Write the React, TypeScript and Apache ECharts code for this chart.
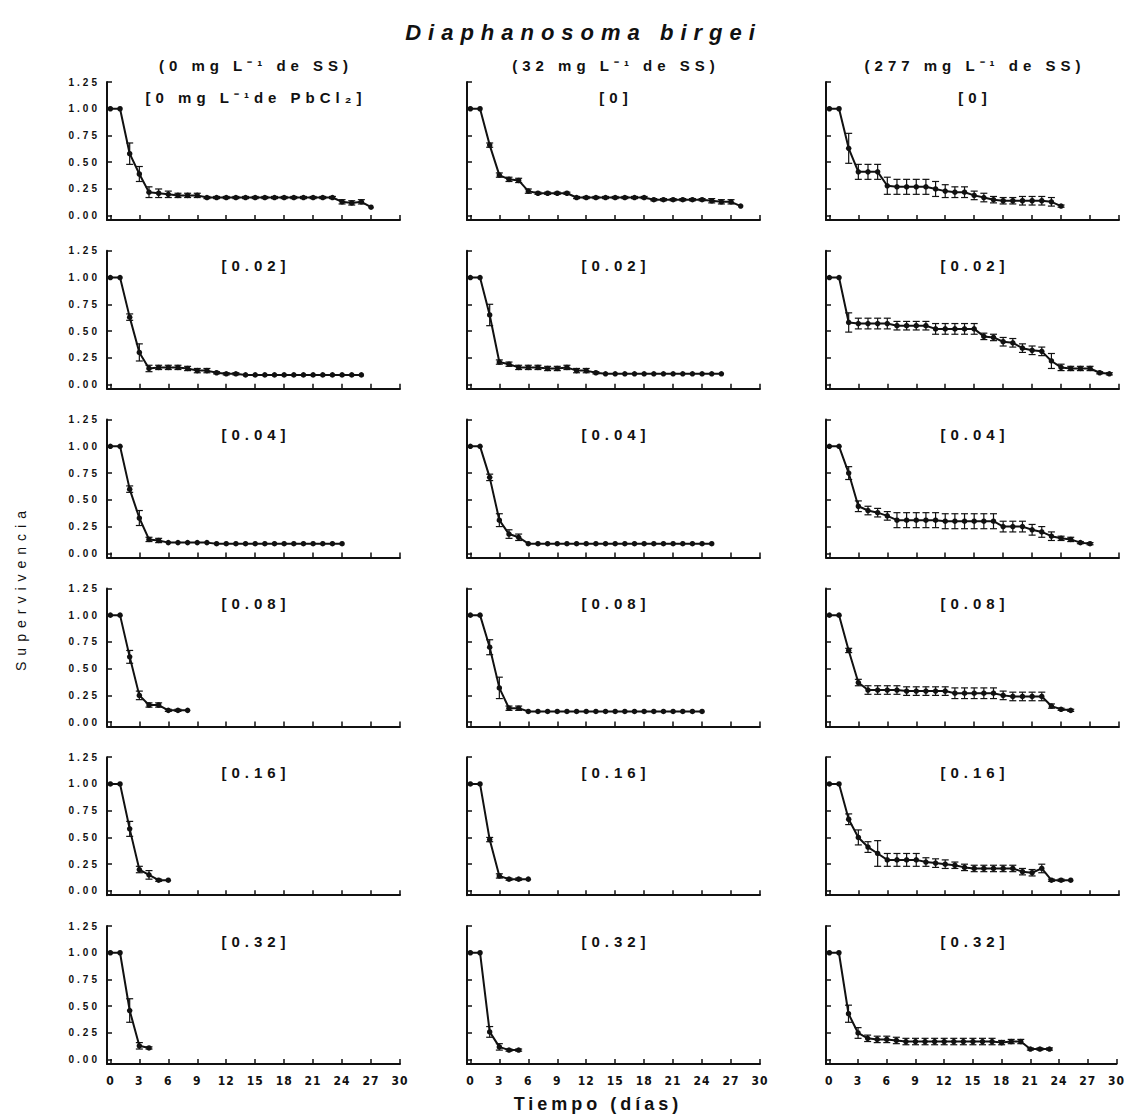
import React, { useEffect, useRef } from "react";
import * as echarts from "echarts";

// ---------- texts ----------
const TITLE = "Diaphanosoma birgei";
const SS_LABELS = ["(0 mg L⁻¹ de SS)", "(32 mg L⁻¹ de SS)", "(277 mg L⁻¹ de SS)"];
const PB_LABELS = ["[0]", "[0.02]", "[0.04]", "[0.08]", "[0.16]", "[0.32]"];
const FIRST_PB_LABEL = "[0 mg L⁻¹de PbCl₂]";
const Y_NAME = "Supervivencia";
const X_NAME = "Tiempo (días)";
const X_TICKS = [0, 3, 6, 9, 12, 15, 18, 21, 24, 27, 30];
const Y_TICKS = [0, 0.25, 0.5, 0.75, 1.0, 1.25];

// ---------- data: survival (mean) per day, and SD ----------
// 0 mg/L SS
const ss0_pb000 = [1.00, 1.00, 0.58, 0.39, 0.22, 0.21, 0.20, 0.19, 0.19, 0.19, 0.17, 0.17, 0.17, 0.17, 0.17, 0.17, 0.17, 0.17, 0.17, 0.17, 0.17, 0.17, 0.17, 0.17, 0.13, 0.12, 0.13, 0.08];
const ss0_pb000_sd = [0, 0, 0.10, 0.07, 0.05, 0.04, 0.03, 0.02, 0.02, 0.02, 0.01, 0.01, 0.01, 0.01, 0.01, 0.01, 0.01, 0.01, 0.01, 0.01, 0.01, 0.01, 0.01, 0.01, 0.02, 0.02, 0.02, 0];
const ss0_pb002 = [1.00, 1.00, 0.63, 0.30, 0.15, 0.16, 0.16, 0.16, 0.15, 0.13, 0.13, 0.11, 0.10, 0.10, 0.09, 0.09, 0.09, 0.09, 0.09, 0.09, 0.09, 0.09, 0.09, 0.09, 0.09, 0.09, 0.09];
const ss0_pb002_sd = [0, 0, 0.03, 0.08, 0.03, 0.02, 0.02, 0.02, 0.02, 0.02, 0.02, 0.01, 0.01, 0.01, 0, 0, 0, 0, 0, 0, 0, 0, 0, 0, 0, 0, 0];
const ss0_pb004 = [1.00, 1.00, 0.60, 0.33, 0.13, 0.12, 0.10, 0.10, 0.10, 0.10, 0.10, 0.09, 0.09, 0.09, 0.09, 0.09, 0.09, 0.09, 0.09, 0.09, 0.09, 0.09, 0.09, 0.09, 0.09];
const ss0_pb004_sd = [0, 0, 0.03, 0.07, 0.02, 0.02, 0, 0, 0, 0, 0, 0, 0, 0, 0, 0, 0, 0, 0, 0, 0, 0, 0, 0, 0];
const ss0_pb008 = [1.00, 1.00, 0.61, 0.25, 0.16, 0.16, 0.11, 0.11, 0.11];
const ss0_pb008_sd = [0, 0, 0.06, 0.04, 0.02, 0.02, 0.01, 0.01, 0];
const ss0_pb016 = [1.00, 1.00, 0.58, 0.20, 0.15, 0.10, 0.10];
const ss0_pb016_sd = [0, 0, 0.07, 0.03, 0.04, 0.01, 0];
const ss0_pb032 = [1.00, 1.00, 0.46, 0.13, 0.11];
const ss0_pb032_sd = [0, 0, 0.11, 0.03, 0.01];

// 32 mg/L SS
const ss32_pb000 = [1.00, 1.00, 0.66, 0.38, 0.34, 0.33, 0.23, 0.21, 0.21, 0.21, 0.21, 0.17, 0.17, 0.17, 0.17, 0.17, 0.17, 0.17, 0.17, 0.15, 0.15, 0.15, 0.15, 0.15, 0.15, 0.14, 0.13, 0.13, 0.09];
const ss32_pb000_sd = [0, 0, 0.02, 0.02, 0.02, 0.02, 0.02, 0.01, 0.01, 0.01, 0.01, 0.01, 0.01, 0.01, 0.01, 0.01, 0.01, 0.01, 0.01, 0.01, 0.01, 0.01, 0.01, 0.01, 0.01, 0.02, 0.02, 0.02, 0];
const ss32_pb002 = [1.00, 1.00, 0.65, 0.21, 0.19, 0.16, 0.16, 0.16, 0.15, 0.15, 0.16, 0.13, 0.13, 0.11, 0.10, 0.10, 0.10, 0.10, 0.10, 0.10, 0.10, 0.10, 0.10, 0.10, 0.10, 0.10, 0.10];
const ss32_pb002_sd = [0, 0, 0.10, 0.02, 0.02, 0.02, 0.02, 0.02, 0.02, 0.02, 0.02, 0.02, 0.02, 0.01, 0, 0, 0, 0, 0, 0, 0, 0, 0, 0, 0, 0, 0];
const ss32_pb004 = [1.00, 1.00, 0.71, 0.31, 0.18, 0.15, 0.09, 0.09, 0.09, 0.09, 0.09, 0.09, 0.09, 0.09, 0.09, 0.09, 0.09, 0.09, 0.09, 0.09, 0.09, 0.09, 0.09, 0.09, 0.09, 0.09];
const ss32_pb004_sd = [0, 0, 0.03, 0.06, 0.04, 0.03, 0, 0, 0, 0, 0, 0, 0, 0, 0, 0, 0, 0, 0, 0, 0, 0, 0, 0, 0, 0];
const ss32_pb008 = [1.00, 1.00, 0.70, 0.32, 0.13, 0.13, 0.10, 0.10, 0.10, 0.10, 0.10, 0.10, 0.10, 0.10, 0.10, 0.10, 0.10, 0.10, 0.10, 0.10, 0.10, 0.10, 0.10, 0.10, 0.10];
const ss32_pb008_sd = [0, 0, 0.07, 0.10, 0.02, 0.02, 0, 0, 0, 0, 0, 0, 0, 0, 0, 0, 0, 0, 0, 0, 0, 0, 0, 0, 0];
const ss32_pb016 = [1.00, 1.00, 0.48, 0.14, 0.11, 0.11, 0.11];
const ss32_pb016_sd = [0, 0, 0.02, 0.02, 0.01, 0.01, 0];
const ss32_pb032 = [1.00, 1.00, 0.26, 0.12, 0.09, 0.09];
const ss32_pb032_sd = [0, 0, 0.05, 0.03, 0.01, 0.01];

// 277 mg/L SS
const ss277_pb000 = [1.00, 1.00, 0.63, 0.41, 0.41, 0.41, 0.28, 0.27, 0.27, 0.27, 0.27, 0.25, 0.23, 0.22, 0.22, 0.19, 0.17, 0.15, 0.14, 0.14, 0.14, 0.14, 0.14, 0.13, 0.09];
const ss277_pb000_sd = [0, 0, 0.14, 0.07, 0.07, 0.07, 0.08, 0.07, 0.07, 0.07, 0.07, 0.07, 0.06, 0.05, 0.05, 0.04, 0.04, 0.03, 0.03, 0.03, 0.04, 0.04, 0.04, 0.04, 0.01];
const ss277_pb002 = [1.00, 1.00, 0.58, 0.57, 0.57, 0.57, 0.57, 0.55, 0.55, 0.55, 0.55, 0.52, 0.52, 0.52, 0.52, 0.52, 0.45, 0.44, 0.40, 0.39, 0.34, 0.32, 0.31, 0.22, 0.16, 0.15, 0.15, 0.15, 0.11, 0.10];
const ss277_pb002_sd = [0, 0, 0.09, 0.05, 0.05, 0.05, 0.05, 0.04, 0.04, 0.04, 0.04, 0.05, 0.05, 0.05, 0.05, 0.05, 0.03, 0.03, 0.04, 0.04, 0.04, 0.04, 0.04, 0.07, 0.03, 0.02, 0.02, 0.02, 0.01, 0.01];
const ss277_pb004 = [1.00, 1.00, 0.75, 0.44, 0.40, 0.38, 0.35, 0.31, 0.31, 0.31, 0.31, 0.31, 0.30, 0.30, 0.30, 0.30, 0.30, 0.30, 0.25, 0.25, 0.25, 0.22, 0.20, 0.16, 0.14, 0.13, 0.10, 0.09];
const ss277_pb004_sd = [0, 0, 0.06, 0.05, 0.04, 0.04, 0.04, 0.07, 0.07, 0.07, 0.07, 0.07, 0.07, 0.07, 0.07, 0.07, 0.07, 0.07, 0.05, 0.05, 0.05, 0.05, 0.05, 0.04, 0.02, 0.02, 0.01, 0.01];
const ss277_pb008 = [1.00, 1.00, 0.67, 0.37, 0.30, 0.30, 0.30, 0.30, 0.29, 0.29, 0.29, 0.29, 0.29, 0.27, 0.27, 0.27, 0.27, 0.27, 0.25, 0.24, 0.24, 0.24, 0.24, 0.15, 0.12, 0.11];
const ss277_pb008_sd = [0, 0, 0.02, 0.03, 0.04, 0.04, 0.04, 0.04, 0.04, 0.04, 0.04, 0.04, 0.04, 0.05, 0.05, 0.05, 0.05, 0.05, 0.04, 0.04, 0.04, 0.04, 0.04, 0.02, 0.01, 0.01];
const ss277_pb016 = [1.00, 1.00, 0.67, 0.50, 0.41, 0.35, 0.29, 0.29, 0.29, 0.29, 0.27, 0.26, 0.25, 0.24, 0.22, 0.21, 0.21, 0.21, 0.21, 0.21, 0.18, 0.17, 0.21, 0.10, 0.10, 0.10];
const ss277_pb016_sd = [0, 0, 0.05, 0.07, 0.05, 0.12, 0.06, 0.06, 0.06, 0.06, 0.04, 0.04, 0.04, 0.03, 0.03, 0.03, 0.03, 0.03, 0.03, 0.03, 0.03, 0.03, 0.04, 0.01, 0.01, 0];
const ss277_pb032 = [1.00, 1.00, 0.43, 0.25, 0.20, 0.19, 0.19, 0.18, 0.17, 0.17, 0.17, 0.17, 0.17, 0.17, 0.17, 0.17, 0.17, 0.17, 0.16, 0.17, 0.17, 0.10, 0.10, 0.10];
const ss277_pb032_sd = [0, 0, 0.08, 0.05, 0.03, 0.03, 0.03, 0.03, 0.03, 0.03, 0.03, 0.03, 0.03, 0.03, 0.03, 0.03, 0.03, 0.03, 0.02, 0.02, 0.02, 0.01, 0.01, 0.01];

// panels[col][row] = [means, sd]
const PANELS: number[][][][] = [
  [
    [ss0_pb000, ss0_pb000_sd], [ss0_pb002, ss0_pb002_sd], [ss0_pb004, ss0_pb004_sd],
    [ss0_pb008, ss0_pb008_sd], [ss0_pb016, ss0_pb016_sd], [ss0_pb032, ss0_pb032_sd],
  ],
  [
    [ss32_pb000, ss32_pb000_sd], [ss32_pb002, ss32_pb002_sd], [ss32_pb004, ss32_pb004_sd],
    [ss32_pb008, ss32_pb008_sd], [ss32_pb016, ss32_pb016_sd], [ss32_pb032, ss32_pb032_sd],
  ],
  [
    [ss277_pb000, ss277_pb000_sd], [ss277_pb002, ss277_pb002_sd], [ss277_pb004, ss277_pb004_sd],
    [ss277_pb008, ss277_pb008_sd], [ss277_pb016, ss277_pb016_sd], [ss277_pb032, ss277_pb032_sd],
  ],
];

// ---------- layout ----------
const COL_LEFT = [107, 467, 826];
const COL_WIDTH = 293;
const ROW_TOP0 = 82;
const ROW_STEP = 168.8;
const GRID_H = 138;
const INK = "#111";
const SANS = '"Liberation Sans", Arial, Helvetica, sans-serif';
const NARROW = '"Liberation Sans Narrow", "DejaVu Sans Condensed", "Liberation Sans", sans-serif';

function buildOption() {
  const grid: any[] = [];
  const xAxis: any[] = [];
  const yAxis: any[] = [];
  const series: any[] = [];
  const graphic: any[] = [];

  for (let c = 0; c < 3; c++) {
    for (let r = 0; r < 6; r++) {
      const i = c * 6 + r;
      const top = ROW_TOP0 + ROW_STEP * r;
      grid.push({ left: COL_LEFT[c], top, width: COL_WIDTH, height: GRID_H, containLabel: false });
      xAxis.push({
        type: "value",
        gridIndex: i,
        min: -0.35,
        max: 30,
        axisLine: { show: true, onZero: false, lineStyle: { color: INK, width: 2 } },
        axisTick: { show: true, inside: true, length: 5, customValues: X_TICKS, lineStyle: { color: INK, width: 1.5 } },
        axisLabel: {
          show: r === 5,
          customValues: X_TICKS,
          margin: 11,
          color: INK,
          fontSize: 12,
          fontWeight: "bold",
          fontFamily: NARROW,
        },
        splitLine: { show: false },
      });
      yAxis.push({
        type: "value",
        gridIndex: i,
        min: -0.04,
        max: 1.25,
        axisLine: { show: true, onZero: false, lineStyle: { color: INK, width: 2 } },
        axisTick: { show: true, inside: true, length: 5, customValues: Y_TICKS, lineStyle: { color: INK, width: 1.5 } },
        axisLabel: {
          show: c === 0,
          customValues: Y_TICKS,
          formatter: (v: number) => v.toFixed(2),
          margin: 7,
          color: INK,
          fontSize: 10,
          fontWeight: "bold",
          fontFamily: SANS,
        },
        splitLine: { show: false },
      });
      const [means, sds] = PANELS[c][r];
      series.push({
        type: "custom",
        xAxisIndex: i,
        yAxisIndex: i,
        coordinateSystem: "cartesian2d",
        silent: true,
        z: 2,
        data: means.map((v, d) => [d, v, sds[d]]).filter((p) => p[2] > 0),
        encode: { x: 0, y: 1 },
        renderItem: (_p: any, api: any) => {
          const x = api.value(0) as number;
          const y = api.value(1) as number;
          const e = api.value(2) as number;
          const hi = api.coord([x, y + e]);
          const lo = api.coord([x, y - e]);
          const w = 3.5;
          const style = { stroke: INK, lineWidth: 1.2 };
          return {
            type: "group",
            children: [
              { type: "line", shape: { x1: hi[0], y1: hi[1], x2: lo[0], y2: lo[1] }, style },
              { type: "line", shape: { x1: hi[0] - w, y1: hi[1], x2: hi[0] + w, y2: hi[1] }, style },
              { type: "line", shape: { x1: lo[0] - w, y1: lo[1], x2: lo[0] + w, y2: lo[1] }, style },
            ],
          };
        },
      });
      series.push({
        type: "line",
        xAxisIndex: i,
        yAxisIndex: i,
        z: 3,
        silent: true,
        data: means.map((v, d) => [d, v]),
        symbol: "circle",
        symbolSize: 5.5,
        showSymbol: true,
        lineStyle: { color: INK, width: 2 },
        itemStyle: { color: INK },
      });

      // panel label
      const label = c === 0 && r === 0 ? FIRST_PB_LABEL : PB_LABELS[r];
      graphic.push({
        type: "text",
        x: COL_LEFT[c] + COL_WIDTH / 2 + 2.5,
        y: top + 15,
        style: {
          text: label,
          font: `bold 15px ${SANS}`,
          fill: INK,
          textAlign: "center",
          textVerticalAlign: "middle",
          align: "center",
          verticalAlign: "middle",
        },
      });
    }
    // column header
    graphic.push({
      type: "text",
      x: COL_LEFT[c] + COL_WIDTH / 2 + 2.5,
      y: 65,
      style: {
        text: SS_LABELS[c],
        font: `bold 15px ${SANS}`,
        fill: INK,
        textAlign: "center",
        textVerticalAlign: "middle",
        align: "center",
        verticalAlign: "middle",
      },
    });
  }

  graphic.push({
    type: "text",
    x: 583.5,
    y: 32,
    style: {
      text: TITLE,
      font: `italic bold 22px ${SANS}`,
      fill: INK,
      textAlign: "center",
      textVerticalAlign: "middle",
      align: "center",
      verticalAlign: "middle",
    },
  });
  graphic.push({
    type: "text",
    x: 598,
    y: 1104,
    style: {
      text: X_NAME,
      font: `bold 18px ${SANS}`,
      fill: INK,
      textAlign: "center",
      textVerticalAlign: "middle",
      align: "center",
      verticalAlign: "middle",
    },
  });
  graphic.push({
    type: "text",
    x: 21,
    y: 588,
    rotation: Math.PI / 2,
    style: {
      text: Y_NAME,
      font: `14px ${SANS}`,
      fill: INK,
      textAlign: "center",
      textVerticalAlign: "middle",
      align: "center",
      verticalAlign: "middle",
    },
  });

  return {
    animation: false,
    backgroundColor: "#ffffff",
    grid,
    xAxis,
    yAxis,
    series,
    graphic: { elements: graphic },
  };
}

function applySpacing(root: HTMLElement | null) {
  if (!root) return;
  root.querySelectorAll("text").forEach((t) => {
    const s = t.textContent || "";
    let ls = 0;
    if (s === TITLE) ls = 7;
    else if (s === Y_NAME) ls = 6;
    else if (s === X_NAME) ls = 4;
    else if (s.startsWith("(") || s.startsWith("[")) ls = 5;
    else if (/^\d\.\d\d$/.test(s)) ls = 3;
    else if (/^\d+$/.test(s)) ls = 1;
    if (ls) t.setAttribute("letter-spacing", String(ls));
  });
}

export default function App() {
  const ref = useRef<HTMLDivElement | null>(null);
  useEffect(() => {
    if (!ref.current) return;
    const chart = echarts.init(ref.current, undefined, { renderer: "svg" });
    chart.setOption(buildOption() as any);
    applySpacing(ref.current);
    const onFinished = () => applySpacing(ref.current);
    chart.on("finished", onFinished);
    const raf = requestAnimationFrame(() => applySpacing(ref.current));
    return () => {
      cancelAnimationFrame(raf);
      chart.off("finished", onFinished);
      chart.dispose();
    };
  }, []);
  return (
    <div
      ref={ref}
      style={{ position: "absolute", left: 0, top: 0, width: 1127, height: 1114, background: "#fff" }}
    />
  );
}
